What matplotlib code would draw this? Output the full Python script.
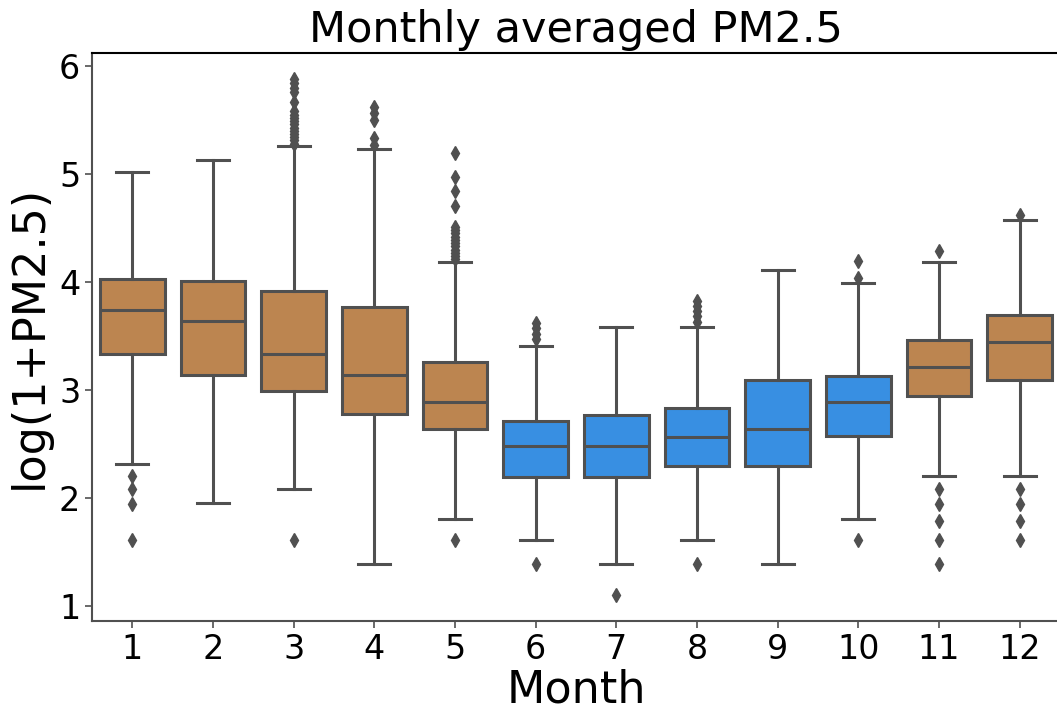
import matplotlib
matplotlib.use("Agg")
import matplotlib.pyplot as plt

months = [1, 2, 3, 4, 5, 6, 7, 8, 9, 10, 11, 12]

# box statistics of log(1+PM2.5) per month
q1 = [3.33, 3.14, 2.99, 2.78, 2.64, 2.19, 2.19, 2.30, 2.30, 2.57, 2.94, 3.09]
med = [3.74, 3.64, 3.33, 3.14, 2.89, 2.48, 2.48, 2.56, 2.64, 2.89, 3.21, 3.44]
q3 = [4.03, 4.01, 3.92, 3.77, 3.26, 2.71, 2.77, 2.83, 3.09, 3.13, 3.46, 3.69]
whislo = [2.31, 1.95, 2.08, 1.39, 1.80, 1.61, 1.39, 1.61, 1.39, 1.80, 2.20, 2.20]
whishi = [5.02, 5.13, 5.26, 5.23, 4.18, 3.41, 3.58, 3.58, 4.11, 3.99, 4.18, 4.57]
fliers = [
    [2.20, 2.08, 1.94, 1.61],
    [],
    [5.28, 5.31, 5.34, 5.37, 5.40, 5.43, 5.46, 5.49, 5.52, 5.55, 5.58,
     5.67, 5.76, 5.80, 5.84, 5.88, 1.61],
    [5.27, 5.33, 5.50, 5.56, 5.62],
    [4.21, 4.24, 4.27, 4.30, 4.33, 4.36, 4.39, 4.42, 4.45, 4.48, 4.51,
     4.70, 4.84, 4.97, 5.19, 1.61],
    [3.47, 3.52, 3.57, 3.62, 1.39],
    [1.10],
    [3.63, 3.68, 3.73, 3.78, 3.82, 1.39],
    [],
    [4.04, 4.19, 1.61],
    [4.29, 2.08, 1.94, 1.79, 1.61, 1.39],
    [4.62, 2.08, 1.94, 1.79, 1.61],
]
season = ["cold", "cold", "cold", "cold", "cold", "warm", "warm", "warm",
          "warm", "warm", "cold", "cold"]

palette = {"cold": "#bc8550", "warm": "#388fe2"}
gray = "#505050"

stats = []
for i, m in enumerate(months):
    stats.append({"label": str(m), "q1": q1[i], "med": med[i], "q3": q3[i],
                  "whislo": whislo[i], "whishi": whishi[i], "fliers": fliers[i]})

fig = plt.figure(figsize=(10.57, 7.15), dpi=100)
ax = fig.add_axes([92 / 1057, (715 - 621) / 715, 968 / 1057, 568 / 715])

lw = 2.2
bp = ax.bxp(stats, positions=range(len(months)), widths=0.8, capwidths=0.4,
            patch_artist=True,
            boxprops=dict(edgecolor=gray, linewidth=lw),
            medianprops=dict(color=gray, linewidth=lw),
            whiskerprops=dict(color=gray, linewidth=lw),
            capprops=dict(color=gray, linewidth=lw),
            flierprops=dict(marker="d", markerfacecolor=gray, markeredgecolor=gray,
                            markersize=7.5, linestyle="none"))
for patch, s in zip(bp["boxes"], season):
    patch.set_facecolor(palette[s])

ax.set_xlim(-0.5, len(months) - 0.5)
ax.set_ylim(0.86, 6.12)
ax.set_yticks([1, 2, 3, 4, 5, 6])
ax.set_xticks(range(len(months)))
ax.set_xticklabels([str(m) for m in months])
ax.tick_params(labelsize=24, length=5, width=1.2, color=gray)

for side in ["left", "bottom"]:
    ax.spines[side].set_color(gray)
    ax.spines[side].set_linewidth(1.5)
for side in ["top", "right"]:
    ax.spines[side].set_color("black")
    ax.spines[side].set_linewidth(1.5)

ax.set_title("Monthly averaged PM2.5", fontsize=31, pad=8)
ax.set_xlabel("Month", fontsize=32, labelpad=2)
ax.set_ylabel("log(1+PM2.5)", fontsize=32, labelpad=6)

fig.savefig("out.png", dpi=100)
